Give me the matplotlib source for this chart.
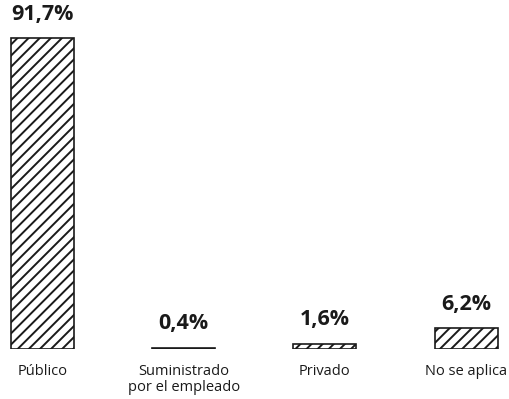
import matplotlib
matplotlib.use('Agg')
import matplotlib.pyplot as plt

# tipo de servicio de agua
categorias = ['Público', 'Suministrado\npor el empleado', 'Privado', 'No se aplica']
porcentajes = [91.7, 0.4, 1.6, 6.2]
etiquetas = ['91,7%', '0,4%', '1,6%', '6,2%']

plt.rcParams['font.family'] = ['Open Sans', 'DejaVu Sans']
plt.rcParams['hatch.linewidth'] = 1.4

fig = plt.figure(figsize=(5.09, 3.99), dpi=100)
ax = fig.add_axes([0, 50 / 399, 1, 349 / 399])

xs = range(len(categorias))
bars = ax.bar(xs, porcentajes, width=0.447, color='white', edgecolor='#1a1a1a',
              linewidth=1.2, hatch='///')

for b, txt in zip(bars, etiquetas):
    ax.annotate(txt, (b.get_x() + b.get_width() / 2, b.get_height()),
                xytext=(0, 9.5), textcoords='offset points', ha='center', va='bottom',
                fontsize=15.5, fontweight='bold', color='#1a1a1a')

ax.set_xlim(-0.301, 3.304)
ax.set_ylim(0, 102.9)
ax.set_xticks(list(xs))
ax.set_xticklabels(categorias, fontsize=10.5, color='#1a1a1a', linespacing=1.05)
ax.tick_params(axis='x', length=0, pad=11)
ax.set_yticks([])
for s in ax.spines.values():
    s.set_visible(False)

fig.savefig('out.png', dpi=100)
